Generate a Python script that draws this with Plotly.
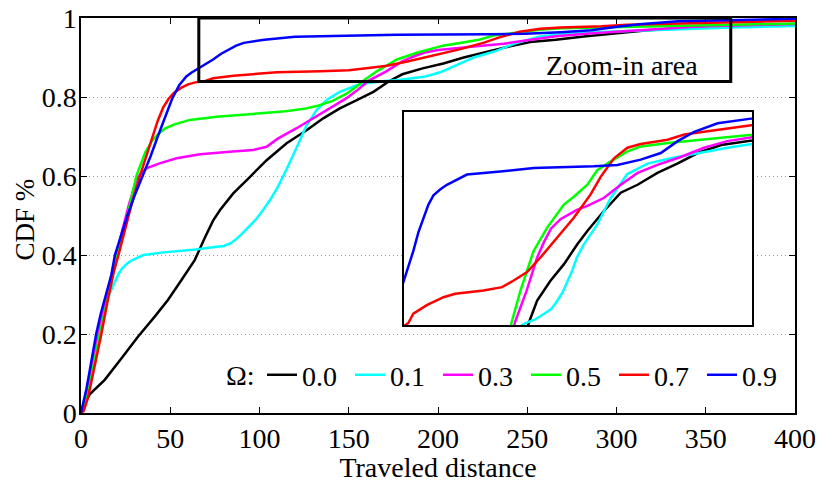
import plotly.graph_objects as go

# Travelled-distance CDF for each value of Omega
omega_labels = ["0.0", "0.1", "0.3", "0.5", "0.7", "0.9"]
line_colors = ["#000000", "#00FFFF", "#FF00FF", "#00FF00", "#FF0000", "#0000FF"]

dist_00 = [0, 2, 5, 8, 13.3, 22.6, 31.9, 41.3, 48.7, 56.2, 63.7, 69.5, 74, 77.9, 85.3,
           94.7, 104, 115.2, 126.4, 135.7, 145, 154.5, 163.8, 172.8, 180, 191.4, 203,
           214.4, 223, 237, 251.6, 266, 283, 300, 317.5, 337.5, 364.7, 400]
cdf_00 = [0, 0.025, 0.048, 0.062, 0.084, 0.138, 0.193, 0.244, 0.286, 0.336, 0.387,
          0.445, 0.487, 0.514, 0.556, 0.598, 0.64, 0.683, 0.716, 0.746, 0.771, 0.792,
          0.813, 0.8405, 0.8575, 0.8725, 0.885, 0.9, 0.91, 0.925, 0.939, 0.945, 0.954,
          0.961, 0.969, 0.975, 0.979, 0.983]

dist_01 = [0, 1.5, 3.5, 6, 9, 12, 14.5, 17, 19, 21, 23, 26, 29, 35, 45, 55, 64, 75, 80,
           84, 88, 93, 98, 102, 106, 110, 115, 121, 126, 132, 138, 145, 154.5, 162, 170,
           178, 186, 192, 197, 202, 206, 210, 214, 220, 231.5, 243, 257, 274.5, 294.5,
           312, 323, 343, 365, 400]
cdf_01 = [0, 0.025, 0.065, 0.125, 0.19, 0.245, 0.285, 0.312, 0.333, 0.352, 0.366, 0.379,
          0.388, 0.4, 0.406, 0.41, 0.414, 0.42, 0.423, 0.43, 0.444, 0.467, 0.49, 0.514,
          0.54, 0.57, 0.615, 0.674, 0.725, 0.767, 0.794, 0.813, 0.83, 0.836, 0.8405,
          0.843, 0.8475, 0.851, 0.857, 0.864, 0.872, 0.88, 0.89, 0.9, 0.915, 0.935, 0.953,
          0.961, 0.965, 0.968, 0.97, 0.973, 0.976, 0.98]

dist_03 = [0, 1.5, 3.5, 6, 9.5, 13, 16.5, 19.8, 23, 27, 31, 33.5, 37, 44, 53.6, 66.7, 85,
           96.5, 104, 110, 120.8, 130, 139.5, 148.8, 155, 161, 171, 180, 186, 192, 200,
           214, 223, 237, 251.6, 266, 283, 303, 323, 343, 364.7, 400]
cdf_03 = [0, 0.01, 0.05, 0.11, 0.2, 0.27, 0.34, 0.4, 0.46, 0.53, 0.59, 0.607, 0.62, 0.632,
          0.645, 0.655, 0.662, 0.666, 0.674, 0.694, 0.721, 0.746, 0.771, 0.797, 0.818,
          0.841, 0.865, 0.89, 0.902, 0.912, 0.919, 0.926, 0.929, 0.935, 0.945, 0.954,
          0.96, 0.966, 0.973, 0.978, 0.981, 0.985]

dist_05 = [0, 1.5, 4, 7, 10.5, 14, 17.5, 20.4, 24, 27.5, 31, 36, 40, 43, 47, 52, 61, 76,
           95, 113, 125, 132, 141, 149, 154, 158, 165.7, 177, 188.6, 202.9, 211.4, 223,
           231.5, 240, 257, 269, 292, 320, 364, 400]
cdf_05 = [0, 0.01, 0.05, 0.12, 0.2, 0.27, 0.34, 0.4, 0.46, 0.53, 0.6, 0.66, 0.69, 0.705,
          0.72, 0.73, 0.742, 0.75, 0.757, 0.763, 0.77, 0.777, 0.79, 0.809, 0.825, 0.8405,
          0.865, 0.895, 0.9126, 0.93, 0.936, 0.945, 0.956, 0.961, 0.97, 0.974, 0.9765,
          0.979, 0.983, 0.986]

dist_07 = [0, 1.5, 4, 7.7, 11.4, 15, 18.5, 21, 25, 29, 33, 36.5, 40, 43, 46, 49, 52, 56,
           60, 64, 69.7, 74, 85.5, 99.8, 109.8, 134.1, 150, 159.9, 171.4, 182.8, 197.2,
           211.4, 225.8, 234.4, 245.8, 257.3, 268.7, 291.7, 306, 334.6, 363.2, 400]
cdf_07 = [0, 0.005, 0.04, 0.117, 0.2, 0.286, 0.36, 0.4, 0.47, 0.54, 0.6, 0.65, 0.7, 0.74,
          0.773, 0.795, 0.81, 0.823, 0.832, 0.837, 0.8405, 0.8475, 0.854, 0.86, 0.8626,
          0.865, 0.8676, 0.8726, 0.879, 0.89, 0.905, 0.92, 0.9377, 0.951, 0.965, 0.973,
          0.9758, 0.979, 0.983, 0.9865, 0.99, 0.993]

dist_09 = [0, 1, 3, 5, 7, 8.5, 11, 14, 17, 19, 22, 26, 30, 34.5, 39, 43, 47, 51, 55, 59,
           62, 66.9, 69.7, 74, 78.3, 82.6, 86.9, 91.2, 96.9, 102.7, 111.3, 119.9, 148.5,
           177.1, 228.6, 248.7, 268.7, 285.9, 300.3, 314.5, 334.6, 363.2, 400]
cdf_09 = [0, 0.02, 0.06, 0.11, 0.16, 0.2, 0.25, 0.3, 0.35, 0.4, 0.445, 0.5, 0.55, 0.6,
          0.65, 0.7, 0.75, 0.795, 0.83, 0.852, 0.862, 0.875, 0.8826, 0.895, 0.909, 0.92,
          0.93, 0.937, 0.9414, 0.945, 0.949, 0.9527, 0.955, 0.9577, 0.959, 0.96, 0.964,
          0.969, 0.978, 0.985, 0.9915, 0.995, 0.998]

distances = [dist_00, dist_01, dist_03, dist_05, dist_07, dist_09]
cdfs = [cdf_00, cdf_01, cdf_03, cdf_05, cdf_07, cdf_09]

x_ticks = [0, 50, 100, 150, 200, 250, 300, 350, 400]
y_ticks = [0, 0.2, 0.4, 0.6, 0.8, 1]
y_tick_text = ["0", "0.2", "0.4", "0.6", "0.8", "1"]

# zoomed window: distance and CDF limits
zoom_x = [66, 364]
zoom_y = [0.839, 1.0]

FONT = "Liberation Serif"

fig = go.Figure()

for lab, col, xs, ys in zip(omega_labels, line_colors, distances, cdfs):
    fig.add_trace(go.Scatter(x=xs, y=ys, mode="lines", name=lab,
                             line=dict(color=col, width=2.5)))

for lab, col, xs, ys in zip(omega_labels, line_colors, distances, cdfs):
    fig.add_trace(go.Scatter(x=xs, y=ys, mode="lines", name=lab, showlegend=False,
                             xaxis="x2", yaxis="y2",
                             line=dict(color=col, width=2.5)))

axis_common = dict(showline=True, linecolor="black", linewidth=1.5, mirror="ticks",
                   ticks="inside", ticklen=6, tickwidth=1.2, tickcolor="black",
                   zeroline=False, automargin=False, tickfont=dict(size=28))

fig.update_layout(
    width=820, height=483,
    margin=dict(l=81, r=25, t=18, b=70),
    paper_bgcolor="white", plot_bgcolor="white",
    font=dict(family=FONT, size=28, color="black"),
    xaxis=dict(range=[0, 400], tickvals=x_ticks, showgrid=False,
               title=dict(text="Traveled distance", standoff=6, font=dict(size=28)),
               **axis_common),
    yaxis=dict(range=[0, 1], tickvals=y_ticks, ticktext=y_tick_text,
               showgrid=True, gridcolor="#9a9a9a", gridwidth=1, griddash="1px,3px",
               ticklabelstandoff=-3, **axis_common),
    xaxis2=dict(domain=[0.4524, 0.9398], anchor="y2", range=zoom_x,
                showticklabels=False, ticks="", showgrid=False, zeroline=False,
                showline=True, mirror=True, linecolor="black", linewidth=1.5),
    yaxis2=dict(domain=[0.2228, 0.762], anchor="x2", range=zoom_y,
                showticklabels=False, ticks="", showgrid=False, zeroline=False,
                showline=True, mirror=True, linecolor="black", linewidth=1.5),
    legend=dict(orientation="h", x=0.2535, y=0.096, xanchor="left", yanchor="middle",
                bgcolor="rgba(0,0,0,0)", entrywidth=43, font=dict(size=28),
                tracegroupgap=0),
    shapes=[dict(type="rect", xref="x", yref="y", x0=zoom_x[0], x1=zoom_x[1],
                 y0=zoom_y[0], y1=zoom_y[1], line=dict(color="black", width=3),
                 layer="above")],
    annotations=[
        dict(text="Zoom-in area", x=303, y=0.881, xref="x", yref="y",
             showarrow=False, font=dict(size=28)),
        dict(text="Ω:", x=0.2465, y=0.096, xref="paper", yref="paper",
             xanchor="right", yanchor="middle", showarrow=False,
             font=dict(size=28)),
        dict(text="CDF %", x=-0.0785, y=0.49, xref="paper", yref="paper",
             xanchor="center", yanchor="middle", textangle=-90, showarrow=False,
             font=dict(size=27)),
    ],
)

fig.write_html("out.html")
